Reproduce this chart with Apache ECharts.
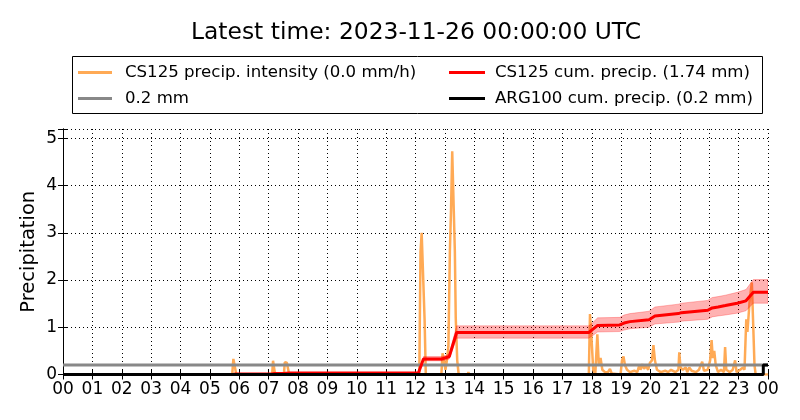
<!DOCTYPE html>
<html>
<head>
<meta charset="utf-8">
<script src="https://cdn.jsdelivr.net/npm/echarts@6/dist/echarts.min.js"></script>
<style>html,body{margin:0;padding:0;background:#fff}#c{width:800px;height:420px}</style>
</head>
<body>
<div id="c"></div>
<script>
// ---- Data (hours since 2023-11-25 00:00 UTC) ----
const titleText = 'Latest time: 2023-11-26 00:00:00 UTC';
const xTickLabels = ['00','01','02','03','04','05','06','07','08','09','10','11','12','13','14','15','16','17','18','19','20','21','22','23','00'];
const yTicks = [0,1,2,3,4,5];

// CS125 precipitation intensity (mm/h)
const intensityTimes = [0,5.76,5.8,5.86,5.9,6.38,6.4,6.42,6.9,6.93,6.96,7.12,7.15,7.19,7.22,7.52,7.55,7.62,7.66,7.7,8.32,8.35,8.38,
  12.13,12.17,12.21,12.26,12.31,12.35,12.88,12.92,12.97,13.02,13.08,13.12,13.17,13.21,13.25,13.3,13.34,13.37,13.42,13.47,13.78,13.8,13.83,
  17.9,17.94,17.98,18.05,18.12,18.19,18.24,18.3,18.36,18.45,18.55,18.62,18.68,18.98,19.03,19.08,19.13,19.2,19.3,19.45,19.55,19.62,19.66,19.72,19.78,19.85,19.92,19.98,
  20.05,20.1,20.15,20.22,20.35,20.5,20.6,20.7,20.85,20.95,20.98,21.02,21.1,21.2,21.25,21.32,21.4,21.55,21.65,21.76,21.82,21.95,
  22.03,22.08,22.12,22.17,22.22,22.3,22.4,22.5,22.54,22.58,22.7,22.8,22.88,22.93,23.05,23.15,23.2,23.26,23.3,23.38,23.45,23.5,23.54,23.58,24];
const intensityValues = [0,0,0.33,0.33,0,0,0.02,0,0,0.04,0,0,0.29,0.29,0,0,0.26,0.25,0.26,0,0,0.02,0,
  0,2.6,3.0,3.0,1.15,0,0,0.45,0.3,0.1,0.35,0.6,2.6,3.5,4.73,4.73,2.6,1.2,0.3,0,0,0.05,0,
  0,1.28,0.9,0.1,0,0.85,0.2,0.35,0.1,0.05,0.05,0.12,0.02,0,0.3,0.38,0.2,0.1,0.05,0.08,0.05,0.2,0.1,0.22,0.12,0.18,0.1,0.25,
  0.3,0.62,0.3,0.1,0.05,0.08,0.05,0.1,0.05,0.1,0.47,0.15,0.1,0.15,0.05,0.15,0.08,0.05,0.1,0.27,0.08,0.1,
  0.3,0.73,0.35,0.5,0.2,0.05,0.1,0.05,0.58,0.1,0.05,0.1,0.3,0.05,0.1,0.15,0.1,1.17,0.9,1.6,1.95,1.95,0.2,0,0];

// CS125 cumulative precipitation (mm) with uncertainty band
const cumTimes  = [0,5.78,5.88,7.1,7.2,7.5,7.7,12.1,12.27,12.9,13.05,13.15,13.4,17.9,18.0,18.2,18.95,19.1,19.3,19.95,20.15,20.95,21.05,21.95,22.1,22.3,22.55,22.95,23.25,23.5,24];
const cumValues = [0,0,0.01,0.01,0.02,0.02,0.03,0.03,0.33,0.33,0.36,0.38,0.89,0.89,0.94,1.04,1.05,1.09,1.12,1.16,1.24,1.29,1.31,1.36,1.41,1.43,1.46,1.51,1.56,1.74,1.74];
const cumLow    = [0,0,0.01,0.01,0.02,0.02,0.03,0.03,0.29,0.29,0.31,0.33,0.77,0.77,0.81,0.9,0.91,0.94,0.97,1.0,1.07,1.11,1.13,1.17,1.22,1.24,1.26,1.3,1.35,1.51,1.51];
const cumHigh   = [0,0,0.01,0.01,0.02,0.02,0.03,0.03,0.38,0.38,0.41,0.44,1.03,1.03,1.08,1.2,1.21,1.26,1.29,1.34,1.43,1.49,1.51,1.57,1.63,1.65,1.68,1.74,1.8,2.01,2.01];

// 0.2 mm reference
const refTimes = [0,24];
const refValues = [0.2,0.2];

// ARG100 cumulative precipitation (mm)
const argTimes = [0,23.84,23.84,24];
const argValues = [0,0,0.2,0.2];

const names = {
  inten: 'CS125 precip. intensity (0.0 mm/h)',
  ref: '0.2 mm',
  cum: 'CS125 cum. precip. (1.74 mm)',
  arg: 'ARG100 cum. precip. (0.2 mm)'
};

const zip = (a,b) => a.map((t,i) => [t,b[i]]);
const FONT = 'DejaVu Sans';

const chart = echarts.init(document.getElementById('c'), null, {renderer:'canvas'});
const tickStyle = {show:true, inside:true, length:5, lineStyle:{color:'#000', width:1}};

function renderBand(params, api) {
  if (params.dataIndex !== 0) return null;
  const upper = cumTimes.map((t,i) => api.coord([t, cumHigh[i]]));
  const lower = cumTimes.map((t,i) => api.coord([t, cumLow[i]])).reverse();
  return {
    type:'polygon',
    shape:{points: upper.concat(lower)},
    style:{fill:'rgba(255,0,0,0.3)', stroke:'rgba(255,0,0,0.25)', lineWidth:1},
    clipPath:{type:'rect', shape:{x:params.coordSys.x, y:params.coordSys.y, width:params.coordSys.width, height:params.coordSys.height}}
  };
}

const option = {
  animation:false,
  backgroundColor:'#fff',
  title:{text:titleText, left:191, top:21, padding:0, textStyle:{fontFamily:FONT, fontSize:23.4, fontWeight:'normal', color:'#000'}},
  graphic:[{type:'rect', shape:{x:72.5, y:56.5, width:690, height:57}, style:{fill:'#fff', stroke:'#000', lineWidth:1}, z:-1}],
  legend:[
    {data:[names.inten, names.ref], orient:'vertical', left:78, top:64, padding:0, itemWidth:34, itemHeight:3, itemGap:9, icon:'rect',
     textStyle:{fontFamily:FONT, fontSize:16.6, color:'#000', padding:[0,0,0,8]}, selectedMode:false},
    {data:[names.cum, names.arg], orient:'vertical', left:449, top:64, padding:0, itemWidth:36, itemHeight:3, itemGap:9, icon:'rect',
     textStyle:{fontFamily:FONT, fontSize:16.6, color:'#000', padding:[0,0,0,5]}, selectedMode:false}
  ],
  grid:{left:63, right:32, top:129, bottom:45.5, containLabel:false},
  xAxis:[
    {type:'value', min:0, max:24, interval:1, position:'bottom',
     axisLine:{show:true, lineStyle:{color:'#000', width:1}}, axisTick:tickStyle,
     axisLabel:{interval:0, fontFamily:FONT, fontSize:17, color:'#000', margin:7, formatter:v => xTickLabels[Math.round(v)]},
     splitLine:{show:true, lineStyle:{color:'#000', width:1, type:[1,3]}}},
    {type:'value', min:0, max:24, interval:1, position:'top',
     axisLine:{show:true, lineStyle:{color:'#000', width:1}}, axisTick:tickStyle, axisLabel:{show:false}, splitLine:{show:false}}
  ],
  yAxis:[
    {type:'value', min:0, max:5.2, interval:1, position:'left',
     name:'Precipitation', nameLocation:'middle', nameGap:24, nameRotate:90, nameMoveOverlap:false,
     nameTextStyle:{fontFamily:FONT, fontSize:19.5, color:'#000'},
     axisLine:{show:true, lineStyle:{color:'#000', width:1}}, axisTick:tickStyle,
     axisLabel:{fontFamily:FONT, fontSize:17, color:'#000', margin:6, formatter:v => yTicks.includes(v) ? String(v) : ''},
     splitLine:{show:true, lineStyle:{color:'#000', width:1, type:[1,3]}}},
    {type:'value', min:0, max:5.2, interval:1, position:'right',
     axisLine:{show:true, lineStyle:{color:'#000', width:1}}, axisTick:tickStyle, axisLabel:{show:false}, splitLine:{show:false}}
  ],
  series:[
    {name:names.inten, type:'line', data:zip(intensityTimes, intensityValues), showSymbol:false, symbol:'none',
     lineStyle:{color:'#ffaa55', width:2.5}, itemStyle:{color:'#ffaa55'}, z:2},
    {name:names.ref, type:'line', data:zip(refTimes, refValues), showSymbol:false, symbol:'none',
     lineStyle:{color:'#888888', width:3}, itemStyle:{color:'#888888'}, z:3},
    {name:'band', type:'custom', renderItem:renderBand, data:zip(cumTimes, cumValues), z:4, silent:true},
    {name:names.cum, type:'line', data:zip(cumTimes, cumValues), showSymbol:false, symbol:'none',
     lineStyle:{color:'#ff0000', width:3}, itemStyle:{color:'#ff0000'}, z:5},
    {name:names.arg, type:'line', data:zip(argTimes, argValues), showSymbol:false, symbol:'none',
     lineStyle:{color:'#000000', width:3}, itemStyle:{color:'#000000'}, z:6}
  ]
};
chart.setOption(option);
</script>
</body>
</html>
